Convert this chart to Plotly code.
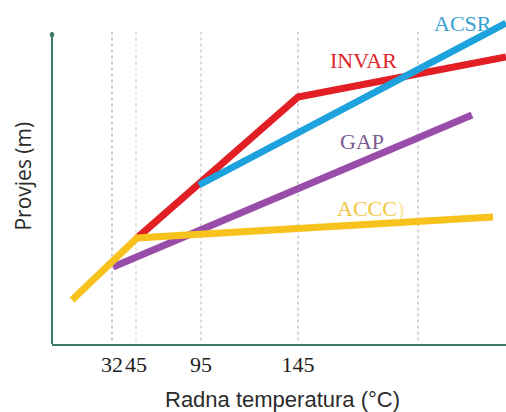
import plotly.graph_objects as go

# Schematic x positions (axis units) and their tick labels
tick_pos = [60, 84, 149, 246, 366]
tick_labels = ["32", "45", "95", "145", ""]

# Series (schematic x, sag y)
accc_x = [20, 85, 441]
accc_y = [44, 106, 127]
gap_x = [61, 420]
gap_y = [77, 229]
invar_x = [85, 246, 454]
invar_y = [106, 247, 287]
acsr_x = [147, 454]
acsr_y = [159, 321]

series = [
    ("ACCC", accc_x, accc_y, "#F7C21B"),
    ("GAP", gap_x, gap_y, "#9A4CAA"),
    ("INVAR", invar_x, invar_y, "#E31F26"),
    ("ACSR", acsr_x, acsr_y, "#1DA2DE"),
]
# drawing order as in reference: red, blue, purple, yellow on top
order = ["INVAR", "ACSR", "GAP", "ACCC"]

labels = [
    ("ACSR", 411, 321, "#3A9FD2"),
    ("INVAR", 311, 284, "#E0252B"),
    ("GAP", 310, 203, "#7B5A8C"),
    ("ACCC<span style='color:#FBE7A6'>)</span>", 318, 136, "#F2C63C"),
]

fig = go.Figure()

# dotted guide lines at tick positions
guide_colors = ["#A8A8A8", "#D8D8C0", "#C0C0C0", "#B8B8B8", "#B8B8B8"]
for xp, gc in zip(tick_pos, guide_colors):
    fig.add_shape(type="line", xref="x", yref="paper", x0=xp, x1=xp, y0=0.01, y1=0.907,
                  line=dict(color=gc, width=1.2, dash="dot"), layer="below")

d = {s[0]: s for s in series}
for name in order:
    n, xs, ys, c = d[name]
    fig.add_trace(go.Scatter(x=xs, y=ys, mode="lines", name=n,
                             line=dict(color=c, width=7), cliponaxis=False,
                             showlegend=False, hoverinfo="skip"))

for txt, x, y, c in labels:
    fig.add_annotation(x=x, y=y, xref="x", yref="y", text=txt, showarrow=False,
                       font=dict(family="Liberation Serif, Times New Roman, serif", size=22, color=c))

# y axis line (with dot at top)
axis_col = "#3E7D62"
fig.add_shape(type="line", xref="paper", yref="paper", x0=0, x1=0, y0=0, y1=0.9,
              line=dict(color=axis_col, width=2))
fig.add_shape(type="circle", xref="paper", yref="paper", x0=-0.004, x1=0.004, y0=0.892, y1=0.906,
              line=dict(color=axis_col, width=1), fillcolor=axis_col)

# axis titles
fig.add_annotation(xref="paper", yref="paper", x=0.508, y=-0.162, yanchor="middle",
                   text="Radna temperatura (°C)", showarrow=False,
                   font=dict(family="Liberation Sans, Arial, sans-serif", size=22, color="#2b2b2b"))
fig.add_annotation(xref="paper", yref="paper", x=-0.063, y=0.488, xanchor="center", yanchor="middle",
                   text="Provjes (m)", textangle=-90, showarrow=False,
                   font=dict(family="Open Sans, Liberation Sans, sans-serif", size=21, color="#2b2b2b"))

fig.update_xaxes(range=[0, 454], tickvals=tick_pos, ticktext=tick_labels, tickangle=0,
                 showgrid=False, zeroline=False, showline=True, linecolor=axis_col, linewidth=2,
                 ticks="", ticklabelstandoff=0,
                 tickfont=dict(family="Liberation Serif, Times New Roman, serif", size=22, color="#222"))
fig.update_yaxes(range=[0, 344], showgrid=False, zeroline=False, showline=False,
                 showticklabels=False, ticks="")

fig.update_layout(width=506, height=412, margin=dict(l=52, r=0, t=0, b=68),
                  plot_bgcolor="white", paper_bgcolor="white", showlegend=False)

fig.write_html("out.html", config={"displayModeBar": False},
               post_script="document.body.style.margin='0';document.body.style.overflow='hidden';")
